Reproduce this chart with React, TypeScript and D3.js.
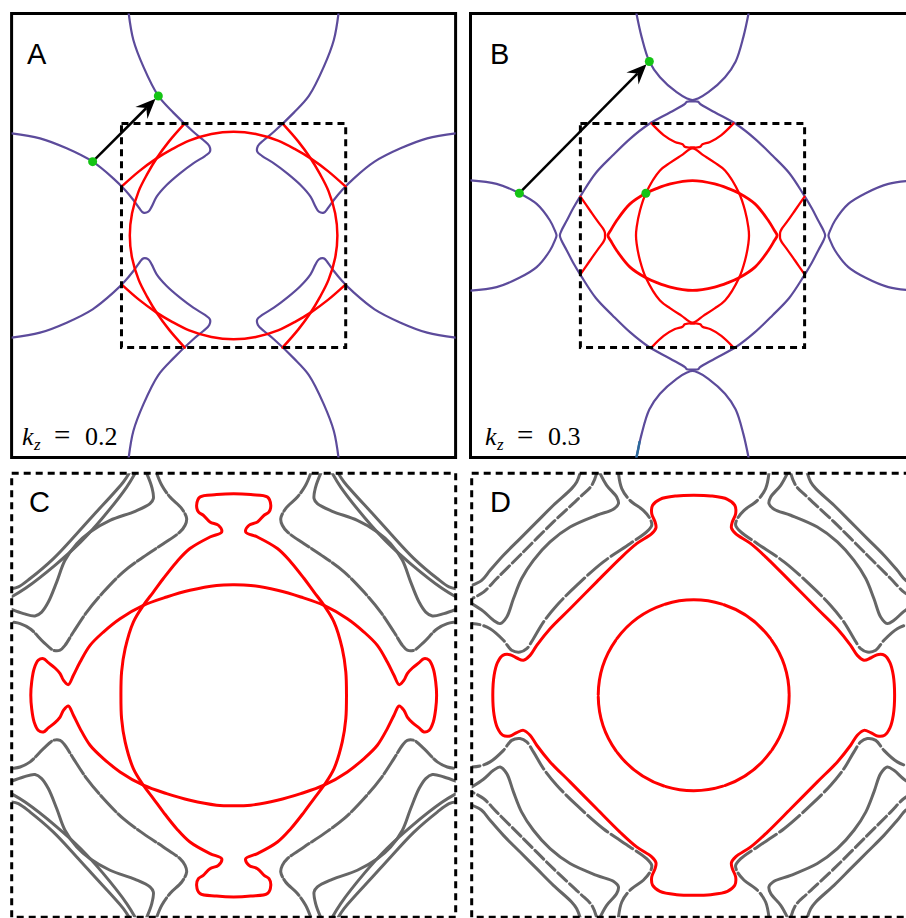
import React from "react";
import * as d3 from "d3";

type P = [number, number];

// ---------- panel A  (k_z = 0.2), units: dashed zone = +-1, frame = +-2
const aPurpleTL: P[] = [
  [-0.945, 2.0], [-0.903, 1.761], [-0.813, 1.521], [-0.678, 1.257], [-0.543, 1.107],
  [-0.363, 0.935], [-0.273, 0.86], [-0.219, 0.806], [-0.213, 0.755], [-0.258, 0.716],
  [-0.363, 0.65], [-0.483, 0.56], [-0.603, 0.455], [-0.693, 0.35], [-0.738, 0.26],
  [-0.768, 0.215], [-0.813, 0.206], [-0.849, 0.245], [-0.903, 0.32], [-0.978, 0.41],
  [-1.084, 0.515], [-1.27, 0.665], [-1.504, 0.785], [-1.744, 0.875], [-2.0, 0.92],
];
// red arches: top one (left half), side one (upper half)
const aRedTopHalf: P[] = [
  [-1.01, 0.44], [-0.85, 0.58], [-0.7, 0.69], [-0.55, 0.78], [-0.4, 0.855], [-0.2, 0.915], [0, 0.935],
];
const aRedSideHalf: P[] = [
  [-0.44, 1.01], [-0.58, 0.85], [-0.69, 0.7], [-0.78, 0.55], [-0.855, 0.4], [-0.915, 0.2], [-0.935, 0],
];
const aDots: P[] = [[-1.27, 0.665], [-0.678, 1.257]];

// ---------- panel B  (k_z = 0.3)
const bTopCircleHalf: P[] = [
  [-0.505, 2.0], [-0.458, 1.787], [-0.389, 1.568], [-0.293, 1.426], [-0.143, 1.291],
  [-0.05, 1.235], [0, 1.22],
];
const bLeftCircleHalf: P[] = [
  [-2.0, 0.497], [-1.765, 0.465], [-1.56, 0.381], [-1.404, 0.285], [-1.284, 0.135],
  [-1.24, 0.045], [-1.225, 0],
];
const bDiamondQ: P[] = [
  [0, 1.207], [0.05, 1.205], [0.068, 1.186], [0.2, 1.11], [0.398, 1.0], [0.563, 0.871],
  [0.72, 0.72], [0.871, 0.563], [1.0, 0.37], [1.075, 0.245], [1.135, 0.13], [1.18, 0.045],
  [1.195, 0],
];
const bRedTopHalf: P[] = [
  [-0.37, 1.01], [-0.26, 0.905], [-0.158, 0.843], [-0.09, 0.822], [-0.07, 0.8],
  [-0.045, 0.793], [0, 0.793],
];
const bRedLeftHalf: P[] = [
  [-1.01, 0.35], [-0.923, 0.225], [-0.849, 0.12], [-0.804, 0.06], [-0.79, 0.03], [-0.788, 0],
];
const bHLensQ: P[] = [
  [0, 0.495], [0.2, 0.465], [0.32, 0.425], [0.42, 0.381], [0.563, 0.285], [0.683, 0.135],
  [0.735, 0.05], [0.762, 0],
];
const bVLensQ: P[] = [
  [0, 0.785], [0.1, 0.722], [0.2, 0.657], [0.293, 0.586], [0.42, 0.381], [0.473, 0.225],
  [0.503, 0.075], [0.509, 0],
];
const bBlue: P[] = [[-0.478, -1.86], [-0.49, -1.93], [-0.505, -2.0]];
const bDots: P[] = [[-1.56, 0.381], [-0.389, 1.568], [-0.42, 0.381]];

// ---------- panel C, units: dashed zone = +-1
const cGrayTL: P[][] = [
  [[-0.471, 1.0], [-0.497, 0.961], [-0.632, 0.811], [-0.707, 0.728], [-0.812, 0.616],
    [-0.917, 0.526], [-0.97, 0.488], [-1.0, 0.48]],
  [[-0.444, 1.0], [-0.482, 0.938], [-0.59, 0.8], [-0.69, 0.69], [-0.8, 0.59],
    [-0.938, 0.482], [-1.0, 0.444]],
  [[-0.392, 1.0], [-0.369, 0.938], [-0.362, 0.886], [-0.377, 0.863], [-0.444, 0.829],
    [-0.557, 0.788], [-0.647, 0.736], [-0.707, 0.683], [-0.76, 0.608], [-0.797, 0.511],
    [-0.835, 0.42], [-0.865, 0.375], [-0.895, 0.357], [-0.947, 0.368], [-1.0, 0.387]],
  [[-0.347, 1.0], [-0.324, 0.946], [-0.287, 0.893], [-0.234, 0.841], [-0.212, 0.796],
    [-0.219, 0.766], [-0.242, 0.736], [-0.317, 0.683], [-0.407, 0.623], [-0.497, 0.556],
    [-0.587, 0.465], [-0.662, 0.375], [-0.722, 0.285], [-0.76, 0.225], [-0.782, 0.203],
    [-0.812, 0.203], [-0.857, 0.24], [-0.917, 0.3], [-0.962, 0.323], [-1.0, 0.33]],
];
const cRedVertQ: P[] = [
  [0, 0.908], [0.077, 0.904], [0.152, 0.893], [0.167, 0.856], [0.159, 0.826], [0.137, 0.811],
  [0.107, 0.781], [0.069, 0.766], [0.054, 0.736], [0.107, 0.713], [0.197, 0.661],
  [0.257, 0.601], [0.317, 0.526], [0.362, 0.465], [0.407, 0.405], [0.452, 0.33],
  [0.489, 0.21], [0.505, 0.105], [0.508, 0],
];
const cRedHorzQ: P[] = [
  [0, 0.498], [0.077, 0.495], [0.197, 0.473], [0.302, 0.443], [0.407, 0.405], [0.512, 0.345],
  [0.587, 0.285], [0.647, 0.225], [0.692, 0.15], [0.722, 0.09], [0.745, 0.048], [0.767, 0.068],
  [0.782, 0.098], [0.805, 0.123], [0.835, 0.147], [0.857, 0.165], [0.88, 0.158], [0.899, 0.12],
  [0.91, 0.06], [0.914, 0],
];

// ---------- panel D
const dGrayTL: P[][] = [
  [[-0.512, 1.0], [-0.527, 0.961], [-0.55, 0.931], [-0.632, 0.856], [-0.707, 0.781],
    [-0.782, 0.706], [-0.857, 0.631], [-0.917, 0.563], [-0.955, 0.518], [-1.0, 0.495]],
  [[-0.437, 1.0], [-0.459, 0.946], [-0.512, 0.893], [-0.632, 0.781], [-0.782, 0.631],
    [-0.887, 0.526], [-0.947, 0.465], [-1.0, 0.435]],
  [[-0.422, 1.0], [-0.392, 0.946], [-0.347, 0.893], [-0.339, 0.863], [-0.362, 0.838],
    [-0.437, 0.811], [-0.557, 0.758], [-0.647, 0.691], [-0.722, 0.608], [-0.775, 0.526],
    [-0.812, 0.435], [-0.842, 0.353], [-0.872, 0.323], [-0.902, 0.338], [-0.947, 0.378],
    [-1.0, 0.413]],
  [[-0.339, 1.0], [-0.324, 0.931], [-0.287, 0.878], [-0.227, 0.833], [-0.197, 0.796],
    [-0.189, 0.766], [-0.212, 0.736], [-0.287, 0.683], [-0.407, 0.601], [-0.527, 0.495],
    [-0.617, 0.405], [-0.677, 0.33], [-0.722, 0.255], [-0.752, 0.21], [-0.782, 0.195],
    [-0.82, 0.203], [-0.857, 0.248], [-0.917, 0.3], [-0.962, 0.318], [-1.0, 0.323]],
];
const dGrayDash = ["", "12 4", "", "26 4"];
const dRedOuterQ: P[] = [
  [0, 0.901], [0.077, 0.898], [0.152, 0.883], [0.185, 0.856], [0.189, 0.818], [0.174, 0.781],
  [0.17, 0.754], [0.189, 0.728], [0.257, 0.683], [0.332, 0.616], [0.437, 0.511], [0.557, 0.39],
  [0.647, 0.3], [0.707, 0.225], [0.737, 0.18], [0.767, 0.158], [0.797, 0.168], [0.827, 0.183],
  [0.86, 0.18], [0.884, 0.147], [0.899, 0.09], [0.905, 0],
];
const dRedInnerRadius = 0.43;

const zoneHalf = 1.01;
const kzValues = ["0.2", "0.3"];
const letters = ["A", "B", "C", "D"];

const PURPLE = "#5c4b9b";
const RED = "#ff0000";
const GRAY = "#666666";
const GREEN = "#14c414";
const BLUE = "#2a6a9c";
const HALF = 222;

const flip = (pts: P[], sx: number, sy: number): P[] => pts.map(([x, y]) => [x * sx, y * sy] as P);
const quads = (pts: P[]): P[][] => [flip(pts, 1, 1), flip(pts, -1, 1), flip(pts, 1, -1), flip(pts, -1, -1)];
const mirrorX = (half: P[]): P[] => [...half, ...flip(half, -1, 1).reverse().slice(1)];
const mirrorY = (half: P[]): P[] => [...half, ...flip(half, 1, -1).reverse().slice(1)];
const loopFromQuarter = (q: P[]): P[] => [
  ...q,
  ...flip(q, 1, -1).reverse().slice(1),
  ...flip(q, -1, -1).slice(1),
  ...flip(q, -1, 1).reverse().slice(1, -1),
];

type S = { x: d3.ScaleLinear<number, number>; y: d3.ScaleLinear<number, number>; dom: number };
const makeScales = (cx: number, cy: number, dom: number): S => ({
  x: d3.scaleLinear().domain([-dom, dom]).range([cx - HALF, cx + HALF]),
  y: d3.scaleLinear().domain([-dom, dom]).range([cy + HALF, cy - HALF]),
  dom,
});

const pathOf = (s: S, pts: P[], closed = false) =>
  d3.line<P>()
    .x((d) => s.x(d[0]))
    .y((d) => s.y(d[1]))
    .curve(closed ? d3.curveCatmullRomClosed.alpha(0.5) : d3.curveCatmullRom.alpha(0.5))(pts) ?? "";

const sA = makeScales(233.6, 235.5, 2);
const sB = makeScales(692.5, 235.5, 2);
const sC = makeScales(233.7, 695.3, 1);
const sD = makeScales(693.7, 695.3, 1);

function Arrow({ s, from, to }: { s: S; from: P; to: P }) {
  const x0 = s.x(from[0]), y0 = s.y(from[1]);
  const x1 = s.x(to[0]), y1 = s.y(to[1]);
  const a = Math.atan2(y1 - y0, x1 - x0);
  const c = Math.cos(a), n = Math.sin(a);
  const tx = x1 - 4 * c, ty = y1 - 4 * n;
  const bx = tx - 20 * c, by = ty - 20 * n;
  const w = 8.5;
  const head = `M${tx},${ty} L${bx - w * n},${by + w * c} L${tx - 13 * c},${ty - 13 * n} L${bx + w * n},${by - w * c} Z`;
  return (
    <g>
      <line x1={x0} y1={y0} x2={tx - 13 * c} y2={ty - 13 * n} stroke="#000" strokeWidth={2.5} />
      <path d={head} fill="#000" />
    </g>
  );
}

function Frame({ s, dashed, id }: { s: S; dashed: boolean; id: string }) {
  const x0 = s.x(-s.dom), y0 = s.y(s.dom);
  const w = s.x(s.dom) - x0, h = s.y(-s.dom) - y0;
  return (
    <g>
      <clipPath id={id}>
        <rect x={x0} y={y0} width={w} height={h} />
      </clipPath>
      <rect x={x0} y={y0} width={w} height={h} fill="none" stroke="#000"
        strokeWidth={3} strokeDasharray={dashed ? "7 5" : undefined} />
    </g>
  );
}

function ZoneBox({ s }: { s: S }) {
  const x0 = s.x(-zoneHalf), y0 = s.y(zoneHalf);
  return (
    <rect x={x0} y={y0} width={s.x(zoneHalf) - x0} height={s.y(-zoneHalf) - y0}
      fill="none" stroke="#000" strokeWidth={3} strokeDasharray="7 5" />
  );
}

function Kz({ x, value }: { x: number; value: string }) {
  return (
    <text y={445} fontFamily="'Liberation Serif', 'DejaVu Serif', serif" fontSize={26} fill="#000">
      <tspan x={x} fontStyle="italic">k</tspan>
      <tspan x={x + 12} dy={5} fontStyle="italic" fontSize={17}>z</tspan>
      <tspan x={x + 32} dy={-5} fontSize={29}>=</tspan>
      <tspan x={x + 63}>{value}</tspan>
    </text>
  );
}

export default function App() {
  const sansFont = "'Liberation Sans', Arial, sans-serif";
  const aTop = mirrorX(aRedTopHalf);
  const aSide = mirrorY(aRedSideHalf);
  const bTop = mirrorX(bTopCircleHalf);
  const bLeft = mirrorY(bLeftCircleHalf);
  const bRedTop = mirrorX(bRedTopHalf);
  const bRedLeft = mirrorY(bRedLeftHalf);
  const cFull = cGrayTL.flatMap((c) => quads(c));

  return (
    <svg width={906} height={918} style={{ position: "absolute", left: 0, top: 0, background: "#fff" }}>
      {/* ---------- A ---------- */}
      <Frame s={sA} dashed={false} id="clipA" />
      <g clipPath="url(#clipA)" fill="none" strokeLinejoin="round" strokeLinecap="round">
        {quads(aPurpleTL).map((p, i) => (
          <path key={i} d={pathOf(sA, p)} stroke={PURPLE} strokeWidth={2.2} />
        ))}
        {[aTop, flip(aTop, 1, -1), aSide, flip(aSide, -1, 1)].map((p, i) => (
          <path key={i} d={pathOf(sA, p)} stroke={RED} strokeWidth={2.5} />
        ))}
      </g>
      <ZoneBox s={sA} />
      <Arrow s={sA} from={aDots[0]} to={aDots[1]} />
      {aDots.map((d, i) => (
        <circle key={i} cx={sA.x(d[0])} cy={sA.y(d[1])} r={4.5} fill={GREEN} />
      ))}
      <text x={27} y={64} fontFamily={sansFont} fontSize={29}>{letters[0]}</text>
      <Kz x={22} value={kzValues[0]} />

      {/* ---------- B ---------- */}
      <Frame s={sB} dashed={false} id="clipB" />
      <g clipPath="url(#clipB)" fill="none" strokeLinejoin="round" strokeLinecap="round">
        {[bTop, flip(bTop, 1, -1), bLeft, flip(bLeft, -1, 1)].map((p, i) => (
          <path key={i} d={pathOf(sB, p)} stroke={PURPLE} strokeWidth={2.2} />
        ))}
        <path d={pathOf(sB, loopFromQuarter(bDiamondQ), true)} stroke={PURPLE} strokeWidth={2.2} />
        <path d={pathOf(sB, bBlue)} stroke={BLUE} strokeWidth={2.4} />
        {[bRedTop, flip(bRedTop, 1, -1), bRedLeft, flip(bRedLeft, -1, 1)].map((p, i) => (
          <path key={i} d={pathOf(sB, p)} stroke={RED} strokeWidth={2.3} />
        ))}
        <path d={pathOf(sB, loopFromQuarter(bVLensQ), true)} stroke={RED} strokeWidth={2.3} />
        <path d={pathOf(sB, loopFromQuarter(bHLensQ), true)} stroke={RED} strokeWidth={2.8} />
      </g>
      <ZoneBox s={sB} />
      <Arrow s={sB} from={bDots[0]} to={bDots[1]} />
      {bDots.map((d, i) => (
        <circle key={i} cx={sB.x(d[0])} cy={sB.y(d[1])} r={4.5} fill={GREEN} />
      ))}
      <text x={490} y={64} fontFamily={sansFont} fontSize={29}>{letters[1]}</text>
      <Kz x={485} value={kzValues[1]} />

      {/* ---------- C ---------- */}
      <g clipPath="url(#clipC)" fill="none" strokeLinejoin="round" strokeLinecap="round">
        {cFull.map((p, i) => (
          <path key={i} d={pathOf(sC, p)} stroke={GRAY} strokeWidth={3}
            strokeDasharray={i >= 12 ? "22 3" : undefined} />
        ))}
        <path d={pathOf(sC, loopFromQuarter(cRedVertQ), true)} stroke={RED} strokeWidth={3} />
        <path d={pathOf(sC, loopFromQuarter(cRedHorzQ), true)} stroke={RED} strokeWidth={3} />
      </g>
      <Frame s={sC} dashed={true} id="clipC" />
      <text x={29} y={512} fontFamily={sansFont} fontSize={29}>{letters[2]}</text>

      {/* ---------- D ---------- */}
      <g clipPath="url(#clipD)" fill="none" strokeLinejoin="round" strokeLinecap="round">
        {dGrayTL.map((c, j) =>
          quads(c).map((p, i) => (
            <path key={`${j}-${i}`} d={pathOf(sD, p)} stroke={GRAY} strokeWidth={3}
              strokeDasharray={dGrayDash[j] || undefined} />
          ))
        )}
        <path d={pathOf(sD, loopFromQuarter(dRedOuterQ), true)} stroke={RED} strokeWidth={3} />
        <circle cx={sD.x(0)} cy={sD.y(0)} r={sD.x(dRedInnerRadius) - sD.x(0)} stroke={RED}
          strokeWidth={3} strokeDasharray="58 2" />
      </g>
      <Frame s={sD} dashed={true} id="clipD" />
      <text x={490} y={512} fontFamily={sansFont} fontSize={29}>{letters[3]}</text>
    </svg>
  );
}
